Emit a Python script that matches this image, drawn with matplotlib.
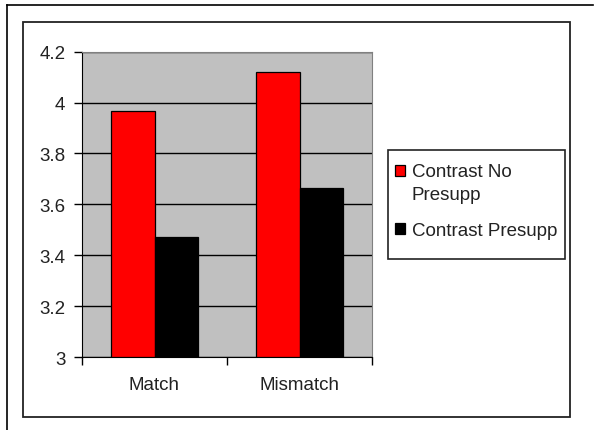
import matplotlib
matplotlib.use("Agg")
import matplotlib.pyplot as plt
from matplotlib.patches import Rectangle
from matplotlib.lines import Line2D
from matplotlib.legend_handler import HandlerPatch
import numpy as np

categories = ["Match", "Mismatch"]
series_names = ["Contrast No\nPresupp", "Contrast Presupp"]
no_presupp = [3.966, 4.119]
presupp = [3.47, 3.665]
colors = ["#FF0000", "#000000"]
yticks = [3, 3.2, 3.4, 3.6, 3.8, 4, 4.2]
ytick_labels = ["3", "3.2", "3.4", "3.6", "3.8", "4", "4.2"]

W, H = 594, 431
plt.rcParams['font.family'] = ['Liberation Sans', 'DejaVu Sans']
fig = plt.figure(figsize=(W / 100, H / 100), dpi=100)
fig.patch.set_facecolor("white")

def fx(px):
    return px / W

def fy(py):
    return 1 - py / H

FS = 13.5

# frame lines
fig.add_artist(Line2D([fx(7), fx(593)], [fy(6), fy(6)], color="black", lw=1.2))
fig.add_artist(Line2D([fx(7), fx(7)], [fy(6), fy(431)], color="black", lw=1.2))
fig.add_artist(Rectangle((fx(23), fy(418)), fx(570) - fx(23), fy(23) - fy(418),
                         transform=fig.transFigure, fill=False, edgecolor="#222222", lw=1.3))

ax = fig.add_axes([fx(82), fy(358), fx(372) - fx(82), fy(52.7) - fy(358)])
ax.set_facecolor("#C0C0C0")
x = np.arange(len(categories))
bw = 0.297
series = [no_presupp, presupp]
for i, (vals, c) in enumerate(zip(series, colors)):
    ax.bar(x + (i - 0.5) * bw, np.array(vals) - 3, bottom=3, width=bw,
           color=c, edgecolor="black", linewidth=0.9, zorder=3)

ax.set_xlim(-0.5, 1.5)
ax.set_ylim(3, 4.2)
ax.set_yticks(yticks)
ax.set_yticklabels(ytick_labels, fontsize=FS, color="#222222")
ax.yaxis.grid(True, color="black", lw=1.0, zorder=1)
ax.set_axisbelow(True)
ax.set_xticks([-0.5, 0.5, 1.5])
ax.set_xticklabels([])
ax.set_xticks(x, minor=True)
ax.set_xticklabels(categories, minor=True, fontsize=FS, color="#222222")
ax.tick_params(axis="x", which="minor", length=0, pad=14)
ax.tick_params(axis="x", which="major", length=6, direction="out", width=1)
ax.tick_params(axis="y", length=6, direction="out", width=1, pad=6)
ax.spines["left"].set_color("black")
ax.spines["bottom"].set_color("black")
ax.spines["top"].set_color("#808080")
ax.spines["right"].set_color("#808080")

# legend
fig.add_artist(Rectangle((fx(388), fy(260)), fx(565) - fx(388), fy(151) - fy(260),
                         transform=fig.transFigure, fill=True, facecolor="white",
                         edgecolor="#222222", lw=1.2, zorder=5))
proxies = [Rectangle((0, 0), 1, 1, facecolor=c, edgecolor="black", lw=0.9) for c in colors]

def shifted(legend, orig_handle, xdescent, ydescent, width, height, fontsize):
    return Rectangle((-xdescent, -ydescent + 8.6), width, height)

leg = fig.legend(proxies, series_names, loc="upper left",
                 bbox_to_anchor=(fx(391), fy(160)), frameon=False,
                 fontsize=FS, handlelength=0.53, handleheight=0.53,
                 handletextpad=0.38, labelspacing=1.0, borderpad=0.2,
                 borderaxespad=0,
                 handler_map={proxies[0]: HandlerPatch(patch_func=shifted)})
leg.set_zorder(6)
for t in leg.get_texts():
    t.set_color("#222222")
    t.set_linespacing(1.5)

fig.savefig("out.png", dpi=100)
